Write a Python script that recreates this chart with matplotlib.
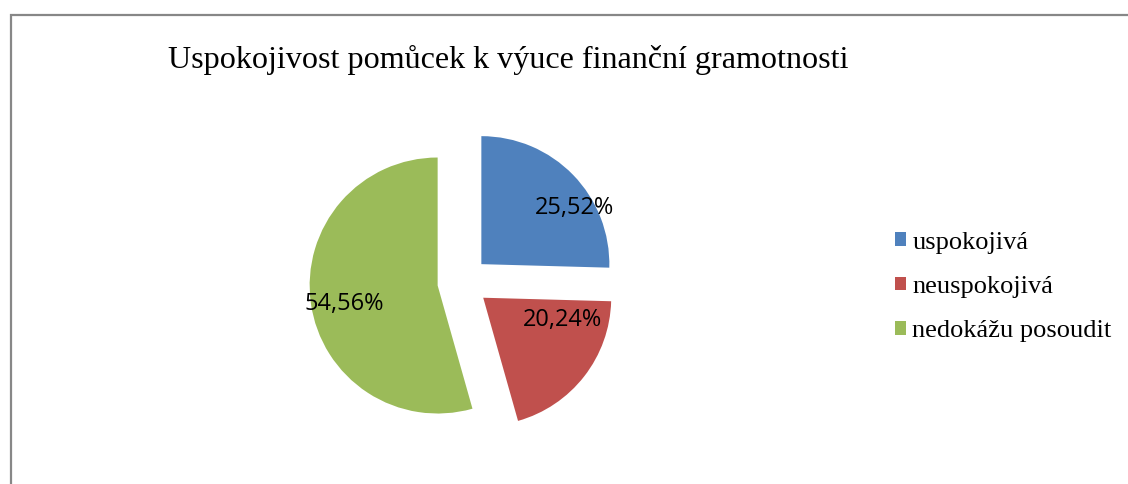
import matplotlib
matplotlib.use('Agg')
import matplotlib.pyplot as plt
from matplotlib.patches import Rectangle

# data
title = 'Uspokojivost pomůcek k výuce finanční gramotnosti'
categories = ['uspokojivá', 'neuspokojivá', 'nedokážu posoudit']
values = [25.52, 20.24, 54.56]
colors = ['#4F81BD', '#C0504D', '#9BBB59']

W, H = 1128, 484
fig = plt.figure(figsize=(W / 100, H / 100), dpi=100)

# pie centre in pixels, radius 128 px
cx, cy, r = 463, 282, 128
half = 2 * r
ax = fig.add_axes([(cx - half) / W, (H - cy - half) / H, 2 * half / W, 2 * half / H])

wedges, texts = ax.pie(values, colors=colors, startangle=90, counterclock=False,
                       explode=[0.2, 0.2, 0.2], radius=1,
                       wedgeprops=dict(linewidth=0))
# pie() resets the limits, so fix them afterwards (1 unit = 128 px)
ax.set_xlim(-2, 2)
ax.set_ylim(-2, 2)
ax.axis('off')

# data labels (Excel "best fit" positions)
label_pos = [(0.87, 0.58), (0.78, -0.30), (-0.93, -0.17)]
for v, (x, y) in zip(values, label_pos):
    ax.text(x, y, ('%.2f' % v).replace('.', ',') + '%', ha='center', va='center',
            fontsize=17, family='Open Sans', color='black')

fig.text(508 / W, 1 - 60 / H, title, ha='center', va='center',
         fontsize=23.1, family='Liberation Serif')

leg = fig.legend(wedges, categories, loc='center left',
                 bbox_to_anchor=(871 / W, 1 - 287 / H), frameon=False,
                 prop={'family': 'Liberation Serif', 'size': 19},
                 handlelength=0.42, handleheight=0.42, handletextpad=0.25,
                 labelspacing=0.85)

# chart frame (only left and top edges visible)
fig.add_artist(Rectangle((10.5 / W, -0.1), 2, 1.1 - 15.5 / H, transform=fig.transFigure,
                         fill=False, edgecolor='#878787', linewidth=1.6))

fig.savefig('out.png', dpi=100)
